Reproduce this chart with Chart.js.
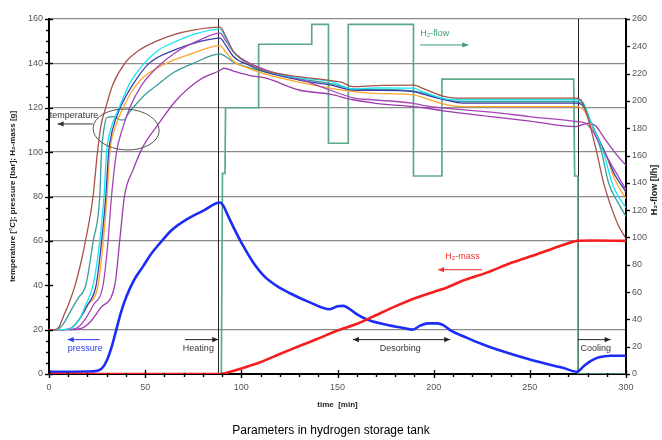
<!DOCTYPE html>
<html><head><meta charset="utf-8">
<script src="https://cdn.jsdelivr.net/npm/chart.js@4.4.1/dist/chart.umd.min.js"></script>
<style>html,body{margin:0;padding:0;background:#fff}#wrap{width:662px;height:440px}</style>
</head><body><div id="wrap"><canvas id="c" width="662" height="440"></canvas></div>
<script>
// ---------- data ----------
const xTicks = [0, 50, 100, 150, 200, 250, 300];
const phaseBounds = [88, 275];           // heating end / desorbing end
const gridValues = [20, 60, 80, 100, 120, 140, 160];

const brownT = [0,3,5,8,10,13.4,16,19,22.9,25.2,27,29.5,33,39.4,47,55.9,65,75,88.9,92,95.8,100,104.5,113,130,146,152,158,170,189.5,195,206,215,274,277,280,284.5,288.4,292,296,300];
const brownV = [20,20,21,27,31,39.5,48,60,80,100,112,120,130,140,146,150,153,155,156.3,152,145.5,142,139.5,136.5,134,132.3,131.5,129.5,130,130.2,128.5,125,124.3,124.3,123,116,101,86,76,67,61];

const cyanT = [0,8,12,16,19,22.9,26,28.6,29.9,32,36.4,42,49.5,57,66.3,77,88.9,92,96,104.5,113,130,146,158,170,189.5,195,206,215,274,278,282,287.9,292.8,296,300];
const cyanV = [20,20,21,25,31,40,57,80,100,110,120,131,140,146,150,153.5,155.4,151,145,139.5,136.5,133.5,132,128.5,129,128.8,127,124,123.6,123.6,122,113,101,86,80,75];

const tealT = [0,4,7,11,15,19.1,23,26.4,27.3,28.5,30,34,37,39,41,43.7,50,55.9,65,75,88.9,92,96,104.5,113,130,146,158,170,189.5,195,206,215,274,278,282,287,291,296,300];
const tealV = [20,20,22,28,34,40,60,80,100,110,115.5,116,114.5,114.5,117,120,126,130,136,140,144.3,143,140.5,138,136,133,131,128.5,128.3,127.5,126.5,123.8,122.8,122.8,121,112,101,86,77,71];

const navyT = [0,8,12,16,20,24.5,27,29.5,31,33,37,44,52,65,77,88.9,92,96,104.5,113,130,146,158,170,189.5,195,206,215,274,278,282,290,294,300];
const navyV = [20,20,21,25,31,40,57,80,100,110,120,131,140,146,149.5,151.4,148,143,139,136,132.5,130.3,128,127.8,127.3,126,123.6,122.1,122.1,120.5,113,98,90,82];

const orangeT = [0,8,12,16,20,25.5,28,30.2,31.6,34,38.5,47,61,75,88.9,92,96,104.5,113,130,146,158,170,189.5,195,206,215,274,278,282,290,294,300];
const orangeV = [20,20,21,25,31,40,58,80,100,110,120,132,140,144.6,148,145,141,137.5,135,131.5,128.8,127.3,126.5,125.8,124.5,121.5,120.5,120.5,119,112,98,88,79];

const purpleAT = [0,10,15,19,23,28.1,30.5,32.5,35.1,38,42,48,56,66,77,88.9,92,96,104.5,113,130,146,158,170,189.5,195,206,230,250,274,279,283,288,294,300];
const purpleAV = [20,20,21,25,31,40,58,80,100,110,120,130,138,145,150,153.6,150,145,140,137,133,128,124.5,123.5,122,121,119.8,118,116,113.8,113,109,101,92,83];

const purpleBT = [0,12,18,22,27,34.2,37,39.2,43.7,48.9,55.9,66.3,78.4,88.9,91,96,104.5,113,130,146,158,170,189.5,195,206,230,250,274,280,284,289,295,300];
const purpleBV = [20,20,21,24,30,40,62,80,92,102.5,111.5,123.5,132.6,136.8,137.8,136.5,134.5,133.3,128,126.1,123.6,122,120.5,120,118.5,116,114,111.5,113,112,106,99,94];

const pressureT = [0,20,25,27.5,30,32.5,35,37.5,40.3,44,48.9,53,57.7,64,71.6,80,88.9,90.5,93,96,101,106,112,118.4,125,135,146,150,153,156,160,165,175,185,189,193,197,202,205,209,215.5,225,233,250,267.6,274.5,278,282,286,292,300];
const pressureV = [1,1.1,1.5,2.5,6,12,20,28,35,42,48.5,54,59,65,69.7,73.5,77.3,76,71.5,66,57.7,50.5,44,39.7,36.5,32.5,29.2,30.5,30.7,29.5,27,24.7,22.3,20.6,20,21.8,22.8,22.8,22,19.5,17,13.5,11,6.5,2.7,1,3.5,6,7.5,8.2,8.2];

const massT = [0,89,92,100,109.8,120,130.5,140,149.6,160,170,180,191.3,200,207,215,227.7,240,253.7,265,274.5,300];
const massV = [0,0,0.5,2.5,5.3,9,12.7,16,19.5,22.5,26.5,30.5,34.5,37,39,42,45.7,50,54,57.5,60,60];

const flowT = [0,89.6,90.2,91.5,91.8,109,109,136.6,136.6,145.3,145.3,155.6,155.6,189.5,189.5,204.3,204.3,272.8,273.3,275,275,300];
const flowV = [0,0,147,147,195,195,241.5,241.5,256,256,169,169,256,256,145,145,216,216,145,145,0,0];

// ---------- helpers ----------
const FONT = "'Liberation Sans', Arial, sans-serif";
const pts = (ts, vs) => ts.map((t, i) => ({x: t, y: vs[i]}));
const tempLine = (label, ts, vs, color) => ({
  label, data: pts(ts, vs), borderColor: color, borderWidth: 1.3,
  cubicInterpolationMode: 'monotone', yAxisID: 'y', order: 5, pointRadius: 0
});

function arrow(ctx, x1, y1, x2, y2, color, both) {
  ctx.strokeStyle = color; ctx.fillStyle = color; ctx.lineWidth = 1;
  ctx.beginPath(); ctx.moveTo(x1, y1); ctx.lineTo(x2, y2); ctx.stroke();
  const head = (xa, ya, xb, yb) => {
    const a = Math.atan2(yb - ya, xb - xa), L = 6, W = 2.6;
    ctx.beginPath();
    ctx.moveTo(xb, yb);
    ctx.lineTo(xb - L * Math.cos(a) + W * Math.sin(a), yb - L * Math.sin(a) - W * Math.cos(a));
    ctx.lineTo(xb - L * Math.cos(a) - W * Math.sin(a), yb - L * Math.sin(a) + W * Math.cos(a));
    ctx.closePath(); ctx.fill();
  };
  head(x1, y1, x2, y2);
  if (both) head(x2, y2, x1, y1);
}

const overlay = {
  id: 'overlay',
  beforeDatasetsDraw(chart) {
    const {ctx, chartArea: a, scales: {x}} = chart;
    ctx.save();
    ctx.strokeStyle = '#222'; ctx.lineWidth = 1;
    phaseBounds.forEach(t => {
      const px = Math.round(x.getPixelForValue(t)) + 0.5;
      ctx.beginPath(); ctx.moveTo(px, a.top); ctx.lineTo(px, a.bottom); ctx.stroke();
    });
    ctx.restore();
  },
  afterDraw(chart) {
    const {ctx, chartArea: a, scales: {x, y, y2}} = chart;
    const X = t => x.getPixelForValue(t), Y = v => y.getPixelForValue(v);
    ctx.save();
    // axis tick marks
    ctx.strokeStyle = '#000'; ctx.lineWidth = 1.4;
    for (let v = 0; v <= 160; v += 5) {
      const py = Math.round(Y(v)) + 0.5, major = v % 20 === 0;
      ctx.beginPath(); ctx.moveTo(a.left - (major ? 4 : 3), py); ctx.lineTo(a.left + (major ? 4 : 1), py); ctx.stroke();
    }
    for (let t = 0; t <= 300; t += 10) {
      const px = Math.round(X(t)) + 0.5, major = t % 50 === 0;
      ctx.beginPath(); ctx.moveTo(px, a.bottom - (major ? 4 : 1)); ctx.lineTo(px, a.bottom + (major ? 4 : 3)); ctx.stroke();
    }
    for (let v = 0; v <= 260; v += 20) {
      const py = Math.round(y2.getPixelForValue(v)) + 0.5;
      ctx.beginPath(); ctx.moveTo(a.right - 1, py); ctx.lineTo(a.right + 4, py); ctx.stroke();
    }
    // annotations
    ctx.font = '9px ' + FONT; ctx.textBaseline = 'middle'; ctx.textAlign = 'left';
    ctx.fillStyle = '#333'; ctx.fillText('temperature', X(0.4), Y(116.4));
    arrow(ctx, X(22.7), Y(112.7), X(4.5), Y(112.7), '#333');
    ctx.strokeStyle = '#555'; ctx.lineWidth = 1;
    ctx.beginPath();
    ctx.ellipse(X(40.1), Y(110.2), (X(57.3) - X(22.9)) / 2, (Y(101) - Y(119.4)) / 2, 0.05, 0, Math.PI * 2);
    ctx.stroke();

    ctx.fillStyle = '#2a3cf0'; ctx.fillText('pressure', X(9.7), Y(11.4));
    arrow(ctx, X(26.4), Y(15.5), X(9.7), Y(15.5), '#2a3cf0');

    ctx.fillStyle = '#333'; ctx.fillText('Heating', X(69.6), Y(11.4));
    arrow(ctx, X(70.7), Y(15.5), X(88), Y(15.5), '#222');
    ctx.fillStyle = '#333'; ctx.fillText('Desorbing', X(172), Y(11.4));
    arrow(ctx, X(158), Y(15.5), X(208.6), Y(15.5), '#222', true);
    ctx.fillStyle = '#333'; ctx.fillText('Cooling', X(276.3), Y(11.4));
    arrow(ctx, X(275), Y(15.5), X(292), Y(15.5), '#222');

    ctx.fillStyle = '#f03030'; ctx.fillText('H\u2082-mass', X(206), Y(52.9));
    arrow(ctx, X(225.2), Y(47), X(202.3), Y(47), '#f03030');

    ctx.fillStyle = '#3d9e72'; ctx.fillText('H\u2082-flow', X(193), Y(153.6));
    arrow(ctx, X(193), Y(148.3), X(218), Y(148.3), '#3d9e72');

    // right axis title (reads bottom-to-top)
    ctx.save();
    ctx.translate(655, 190);
    ctx.rotate(-Math.PI / 2);
    ctx.font = 'bold 9px ' + FONT; ctx.textAlign = 'center'; ctx.fillStyle = '#222';
    ctx.fillText('H\u2082-flow [l/h]', 0, 0);
    ctx.restore();
    ctx.restore();
  }
};

new Chart(document.getElementById('c'), {
  type: 'line',
  data: {
    datasets: [
      {label: 'H2-mass', data: pts(massT, massV), borderColor: '#f51d1d', borderWidth: 2.6, tension: 0.2, yAxisID: 'y', order: 1, pointRadius: 0},
      {label: 'pressure', data: pts(pressureT, pressureV), borderColor: '#1a2cf5', borderWidth: 2.6, cubicInterpolationMode: 'monotone', yAxisID: 'y', order: 2, pointRadius: 0},
      tempLine('T1', brownT, brownV, '#a8524a'),
      tempLine('T2', cyanT, cyanV, '#18e4f2'),
      tempLine('T3', purpleAT, purpleAV, '#a646b8'),
      tempLine('T4', navyT, navyV, '#3c3ca8'),
      tempLine('T5', orangeT, orangeV, '#ffa52a'),
      tempLine('T6', tealT, tealV, '#3a9c98'),
      tempLine('T7', purpleBT, purpleBV, '#9c3cac'),
      {label: 'H2-flow', data: pts(flowT, flowV), borderColor: '#5aaa86', borderWidth: 1.7, tension: 0, yAxisID: 'y2', order: 10, pointRadius: 0}
    ]
  },
  options: {
    responsive: false, animation: false, events: [],
    layout: {padding: {top: 19, left: 0, right: 0, bottom: 0}},
    plugins: {
      legend: {display: false}, tooltip: {enabled: false},
      title: {display: true, position: 'bottom', text: 'Parameters in hydrogen storage tank',
        color: '#000', font: {family: FONT, size: 12, weight: 'normal'}, padding: {top: 6, bottom: 2}}
    },
    scales: {
      x: {
        type: 'linear', min: 0, max: 300,
        afterBuildTicks: s => { s.ticks = xTicks.map(v => ({value: v})); },
        ticks: {color: '#555', font: {family: FONT, size: 9}, padding: 8, maxRotation: 0},
        grid: {display: false, drawTicks: false},
        border: {display: true, color: '#000', width: 2},
        title: {display: true, text: 'time  [min]', color: '#222', font: {family: FONT, size: 8, weight: 'bold'}, padding: {top: 0, bottom: 7.8}},
        afterFit: s => { s.height = 43.6; }
      },
      y: {
        position: 'left', min: 0, max: 160,
        ticks: {stepSize: 20, color: '#555', font: {family: FONT, size: 9}, padding: 6},
        grid: {drawTicks: false, lineWidth: 1.3,
          color: c => gridValues.includes(c.tick && c.tick.value) ? '#8a8a8a' : 'rgba(0,0,0,0)'},
        border: {display: true, color: '#000', width: 2},
        title: {display: true, text: 'temperature [\u00b0C]; pressure [bar]; H\u2082-mass [g]', color: '#222',
          font: {family: FONT, size: 8, weight: 'bold'}, padding: {top: 8, bottom: 0}},
        afterFit: s => { s.width = 49; }
      },
      y2: {
        position: 'right', min: 0, max: 260,
        ticks: {stepSize: 20, color: '#555', font: {family: FONT, size: 9}, padding: 6},
        grid: {drawOnChartArea: false, drawTicks: false},
        border: {display: true, color: '#000', width: 2},
        afterFit: s => { s.width = 36; }
      }
    }
  },
  plugins: [overlay]
});
</script>
</body></html>
